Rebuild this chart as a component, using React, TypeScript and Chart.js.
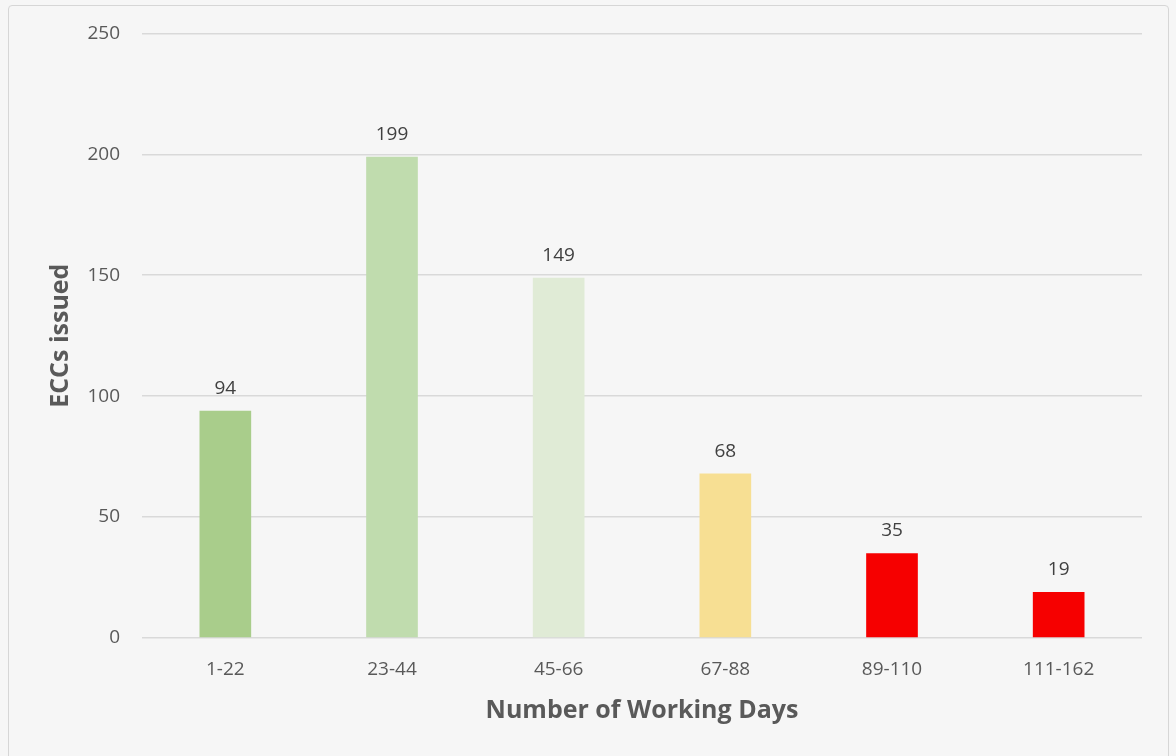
import React, { useEffect, useRef } from "react";
import { Chart, registerables } from "chart.js";

Chart.register(...registerables);

const categories = ["1-22", "23-44", "45-66", "67-88", "89-110", "111-162"];
const values = [94, 199, 149, 68, 35, 19];
const barColors = ["#a9cd8b", "#c0dcae", "#e0ebd6", "#f7df93", "#f60000", "#f60000"];
const yTicks = [0, 50, 100, 150, 200, 250];
const xTitle = "Number of Working Days";
const yTitle = "ECCs issued";

const FONT = "'Open Sans', 'Liberation Sans', sans-serif";

const valueLabels = {
  id: "valueLabels",
  afterDatasetsDraw(chart: any) {
    const { ctx } = chart;
    const meta = chart.getDatasetMeta(0);
    ctx.save();
    ctx.font = `19px ${FONT}`;
    ctx.fillStyle = "#404040";
    ctx.textAlign = "center";
    ctx.textBaseline = "alphabetic";
    meta.data.forEach((bar: any, i: number) => {
      ctx.fillText(String(values[i]), bar.x, bar.y - 17);
    });
    ctx.restore();
  },
};

export default function App() {
  const ref = useRef<HTMLCanvasElement>(null);
  useEffect(() => {
    if (!ref.current) return;
    const chart = new Chart(ref.current, {
      type: "bar",
      data: {
        labels: categories,
        datasets: [
          {
            data: values,
            backgroundColor: barColors,
            barPercentage: 0.31,
            categoryPercentage: 1,
          },
        ],
      },
      options: {
        animation: false,
        responsive: false,
        maintainAspectRatio: false,
        layout: { padding: { left: 0, right: 34, top: 21, bottom: 0 } },
        plugins: { legend: { display: false }, tooltip: { enabled: false } },
        scales: {
          x: {
            afterFit: (axis: any) => {
              axis.height = 118;
            },
            grid: { display: false, drawTicks: false },
            border: { display: false },
            ticks: { color: "#595959", font: { family: FONT, size: 19 }, padding: 20 },
            title: {
              display: true,
              text: xTitle,
              color: "#595959",
              font: { family: FONT, size: 25, weight: "bold" },
              padding: { top: 0, bottom: 30 },
            },
          },
          y: {
            min: 0,
            max: 250,
            afterFit: (axis: any) => {
              axis.width = 142;
            },
            afterBuildTicks: (axis: any) => {
              axis.ticks = yTicks.map((v) => ({ value: v }));
            },
            grid: { color: "#d9d9d9", lineWidth: 1.5, drawTicks: false },
            border: { display: false },
            ticks: { color: "#595959", font: { family: FONT, size: 19 }, padding: 22 },
            title: {
              display: true,
              text: yTitle,
              color: "#595959",
              font: { family: FONT, size: 25, weight: "bold" },
              padding: { top: 46, bottom: 0 },
            },
          },
        },
      },
      plugins: [valueLabels],
    });
    return () => chart.destroy();
  }, []);

  return (
    <div style={{ position: "absolute", left: 0, top: 0, width: 1176, height: 756, background: "#f6f6f6", overflow: "hidden" }}>
      <div
        style={{
          position: "absolute",
          left: 8,
          top: 5,
          width: 1161,
          height: 770,
          border: "1px solid #d6d6d6",
          borderRadius: 4,
          boxSizing: "border-box",
        }}
      />
      <canvas ref={ref} width={1176} height={756} style={{ position: "absolute", left: 0, top: 0 }} />
    </div>
  );
}
